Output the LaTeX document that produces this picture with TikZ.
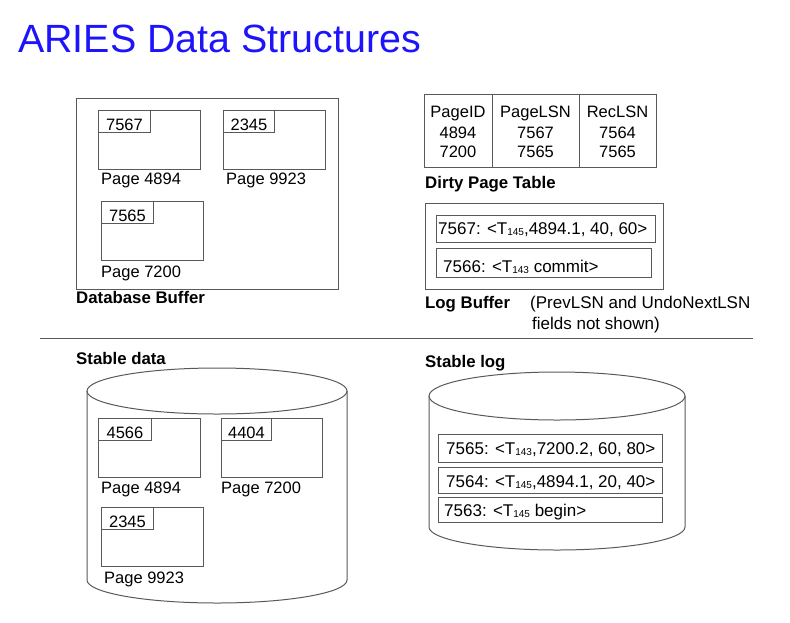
\documentclass[tikz,border=0pt]{standalone}
\usepackage{fontspec}
\setmainfont{Liberation Sans}
\usetikzlibrary{calc}
\definecolor{titleblue}{RGB}{30,20,250}
\newcommand{\tsub}[1]{\raisebox{-1.5pt}{\fontsize{10}{10}\selectfont #1}}
\tikzset{
    frame/.style={draw=black!65,line width=1pt},
    pagebox/.style={frame,minimum width=102pt,minimum height=59pt,inner sep=0pt,anchor=north west},
    tagbox/.style={frame,minimum width=52pt,minimum height=22pt,inner sep=0pt,anchor=north west,
        text height=17pt,text depth=0pt,font=\fontsize{16.5}{19}\selectfont},
    lbl/.style={anchor=base west,inner sep=0pt,font=\fontsize{16.5}{19}\selectfont},
    logtxt/.style={anchor=base west,inner sep=0pt,font=\fontsize{17}{21}\selectfont},
    cell/.style={anchor=base,inner sep=0pt,font=\fontsize{16.5}{19}\selectfont},
    hdr/.style={anchor=base west,inner sep=0pt,font=\fontsize{16.8}{19}\selectfont\bfseries},
}
\begin{document}
\begin{tikzpicture}[x=1pt,y=-1pt]
                    \useasboundingbox (0,0) rectangle (790,622);
                    \node[anchor=base west,inner sep=0pt,text=titleblue,font=\fontsize{39.4}{42}\selectfont]
                        (title) at (18,52) {ARIES Data Structures};
                    % database buffer
                    \node[frame,minimum width=262pt,minimum height=191pt,anchor=north west] (dbbuf) at (76,98) {};
                    \node[pagebox] (b4894) at (98,110) {};
                    \node[tagbox] (bt4894) at (b4894.north west) {7567};
                    \node[lbl] (bl4894) at (101,184) {Page 4894};
                    \node[pagebox] (b9923) at (223,110) {};
                    \node[tagbox,minimum width=51pt] (bt9923) at (b9923.north west) {2345};
                    \node[lbl] (bl9923) at (226,184) {Page 9923};
                    \node[pagebox] (b7200) at (101,201) {};
                    \node[tagbox] (bt7200) at (b7200.north west) {7565};
                    \node[lbl] (bl7200) at (101,277) {Page 7200};
                    \node[hdr] (dbname) at (76,303) {Database Buffer};
                    % dirty page table
                    \node[frame,minimum width=232pt,minimum height=73pt,anchor=north west] (dpt) at (424,94) {};
                    \draw[frame] (492,94) -- (492,167);
                    \draw[frame] (579,94) -- (579,167);
                    \node[cell] (c11) at (458,117) {PageID};
                    \node[cell] (c12) at (535.5,117) {PageLSN};
                    \node[cell] (c13) at (617.5,117) {RecLSN};
                    \node[cell] (c21) at (458,138) {4894};
                    \node[cell] (c22) at (535.5,138) {7567};
                    \node[cell] (c23) at (617.5,138) {7564};
                    \node[cell] (c31) at (458,157) {7200};
                    \node[cell] (c32) at (535.5,157) {7565};
                    \node[cell] (c33) at (617.5,157) {7565};
                    \node[hdr] (dptname) at (425,188) {Dirty Page Table};
                    % log buffer
                    \node[frame,minimum width=238pt,minimum height=86pt,anchor=north west] (logbuf) at (425,203) {};
                    \node[frame,minimum width=219pt,minimum height=27pt,anchor=north west] (lb1) at (436,215) {};
                    \node[logtxt] (lt1) at (438,234) {7567: <T\tsub{145},4894.1, 40, 60>};
                    \node[frame,minimum width=215pt,minimum height=29pt,anchor=north west] (lb2) at (436,248) {};
                    \node[logtxt] (lt2) at (443,272) {7566: <T\tsub{143} commit>};
                    \node[hdr] (lbname) at (425,308) {Log Buffer};
                    \node[logtxt] (note1) at (530,308) {(PrevLSN and UndoNextLSN};
                    \node[logtxt] (note2) at (532,329) {fields not shown)};
                    \draw[frame] (40,338) -- (753,338);
                    % stable data
                    \node[hdr] (sdname) at (76,364) {Stable data};
                    \draw[frame] (217,391) ellipse[x radius=130,y radius=23];
                    \draw[frame] (87,391) -- (87,580) arc[start angle=180,end angle=0,x radius=130,y radius=23] -- (347,391);
                    \node[pagebox] (s4894) at (98,418) {};
                    \node[tagbox,minimum width=53pt] (st4894) at (s4894.north west) {4566};
                    \node[lbl] (sl4894) at (101,493) {Page 4894};
                    \node[pagebox,minimum width=101pt] (s7200) at (221,418) {};
                    \node[tagbox,minimum width=50pt] (st7200) at (s7200.north west) {4404};
                    \node[lbl] (sl7200) at (221,493) {Page 7200};
                    \node[pagebox] (s9923) at (101,507) {};
                    \node[tagbox] (st9923) at (s9923.north west) {2345};
                    \node[lbl] (sl9923) at (104,583) {Page 9923};
                    % stable log
                    \node[hdr] (slname) at (425,367) {Stable log};
                    \draw[frame] (557,396) ellipse[x radius=128,y radius=24];
                    \draw[frame] (429,396) -- (429,527) arc[start angle=180,end angle=0,x radius=128,y radius=23] -- (685,396);
                    \node[frame,minimum width=224pt,minimum height=28pt,anchor=north west] (sb1) at (438,434) {};
                    \node[logtxt] (st1) at (446,454) {7565: <T\tsub{143},7200.2, 60, 80>};
                    \node[frame,minimum width=224pt,minimum height=26pt,anchor=north west] (sb2) at (438,467) {};
                    \node[logtxt] (st2) at (446,487) {7564: <T\tsub{145},4894.1, 20, 40>};
                    \node[frame,minimum width=224pt,minimum height=25pt,anchor=north west] (sb3) at (438,497) {};
                    \node[logtxt] (st3) at (444,516) {7563: <T\tsub{145} begin>};
                \end{tikzpicture}
\end{document}
